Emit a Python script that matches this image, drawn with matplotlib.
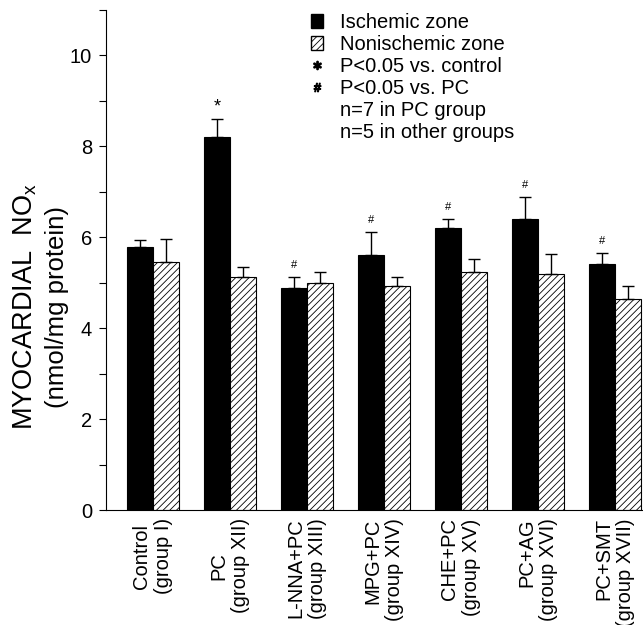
import numpy as np
import matplotlib
matplotlib.use("Agg")
from matplotlib import pyplot as plt
from matplotlib.patches import Patch
from matplotlib.lines import Line2D

plt.rcParams['font.family'] = ['Liberation Sans', 'DejaVu Sans']
plt.rcParams['mathtext.default'] = 'regular'
plt.rcParams['hatch.linewidth'] = 0.6

# data
groups = ["Control\n(group I)", "PC\n(group XII)", "L-NNA+PC\n(group XIII)",
          "MPG+PC\n(group XIV)", "CHE+PC\n(group XV)", "PC+AG\n(group XVI)",
          "PC+SMT\n(group XVII)"]
ischemic = [5.78, 8.20, 4.88, 5.61, 6.21, 6.40, 5.41]
ischemic_err = [0.17, 0.41, 0.24, 0.51, 0.20, 0.48, 0.25]
nonischemic = [5.45, 5.13, 4.99, 4.92, 5.23, 5.19, 4.64]
nonischemic_err = [0.51, 0.22, 0.24, 0.21, 0.30, 0.44, 0.29]
marks = ["", "*", "#", "#", "#", "#", "#"]

fig = plt.figure(figsize=(6.43, 6.25), dpi=100)
ax = fig.add_axes([0.1649, 0.184, 0.8351, 0.8])

x = np.arange(len(groups))
w = 0.338

ax.bar(x - w/2, ischemic, w, color='black', edgecolor='black', linewidth=0.8)
ax.bar(x + w/2, nonischemic, w, color='white', edgecolor='black',
       hatch='/////', linewidth=0.8)
ax.errorbar(x - w/2, ischemic, yerr=[np.zeros(len(x)), ischemic_err],
            fmt='none', ecolor='black', elinewidth=1, capsize=4.3, capthick=1)
ax.errorbar(x + w/2, nonischemic, yerr=[np.zeros(len(x)), nonischemic_err],
            fmt='none', ecolor='black', elinewidth=1, capsize=4.3, capthick=1)

# significance marks above ischemic bars
for xi, yi, e, m in zip(x, ischemic, ischemic_err, marks):
    if m == "*":
        ax.annotate(m, (xi - w/2, yi + e), xytext=(0, 2), textcoords='offset points',
                    ha='center', va='bottom', fontsize=13)
    elif m:
        ax.annotate(m, (xi - w/2, yi + e), xytext=(0, 5), textcoords='offset points',
                    ha='center', va='bottom', fontsize=8)

ax.set_xlim(-0.61, 6.364)
ax.set_ylim(0, 11)
ax.set_yticks([0, 2, 4, 6, 8, 10])
ax.set_yticks([1, 3, 5, 7, 9, 11], minor=True)
ax.tick_params(axis='y', which='both', length=5, width=0.8, labelsize=14.5, pad=5)
ax.set_xticks(x)
ax.set_xticklabels(groups, rotation=90, ha='center', va='top', fontsize=14.5)
# first two labels centred, the rest flush at the top
for i, lab in enumerate(ax.get_xticklabels()):
    lab.set_multialignment('center' if i < 2 else 'right')
ax.tick_params(axis='x', length=0, pad=6)

ax.spines['top'].set_visible(False)
ax.spines['right'].set_visible(False)
ax.spines['left'].set_linewidth(0.8)
ax.spines['bottom'].set_linewidth(0.8)

fig.text(0.039, 0.51, "MYOCARDIAL  NO$_x$", rotation=90, ha='center', va='center',
         fontsize=19.5)
fig.text(0.0886, 0.509, "(nmol/mg protein)", rotation=90, ha='center', va='center',
         fontsize=18.5)

handles = [Patch(facecolor='black', edgecolor='black'),
           Patch(facecolor='white', edgecolor='black', hatch='/////'),
           Line2D([], [], linestyle='none', marker='$\\ast$', color='black', markersize=6),
           Line2D([], [], linestyle='none', marker='$\\#$', color='black', markersize=6),
           Line2D([], [], linestyle='none'),
           Line2D([], [], linestyle='none')]
labels = ["Ischemic zone", "Nonischemic zone", "P<0.05 vs. control",
          "P<0.05 vs. PC", "n=7 in PC group", "n=5 in other groups"]
ax.legend(handles, labels, loc='upper left', bbox_to_anchor=(0.3817, 0.994),
          frameon=False, fontsize=14.5, handlelength=0.62, handleheight=0.72,
          handletextpad=0.8, labelspacing=0.15, borderaxespad=0, borderpad=0)

fig.savefig("out.png", dpi=100)
